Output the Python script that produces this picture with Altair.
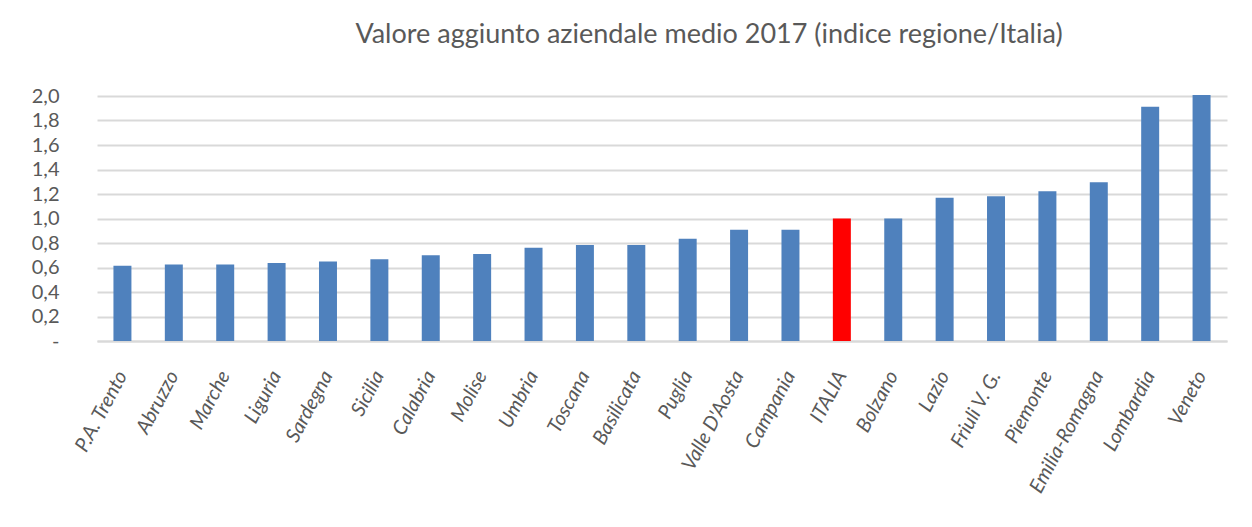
import altair as alt
import pandas as pd

regioni = ["P.A. Trento", "Abruzzo", "Marche", "Liguria", "Sardegna", "Sicilia",
           "Calabria", "Molise", "Umbria", "Toscana", "Basilicata", "Puglia",
           "Valle D'Aosta", "Campania", "ITALIA", "Bolzano", "Lazio", "Friuli V. G.",
           "Piemonte", "Emilia-Romagna", "Lombardia", "Veneto"]
valori = [0.615, 0.625, 0.625, 0.637, 0.648, 0.667,
          0.699, 0.710, 0.762, 0.784, 0.784, 0.835,
          0.909, 0.909, 1.000, 1.000, 1.170, 1.181,
          1.222, 1.295, 1.913, 2.008]
y_ticks = [0.0, 0.2, 0.4, 0.6, 0.8, 1.0, 1.2, 1.4, 1.6, 1.8, 2.0]
titolo = "Valore aggiunto aziendale medio 2017 (indice regione/Italia)"

df = pd.DataFrame({"regione": regioni, "valore": valori})

FONT = "Lato"
GREY = "#595959"

chart = alt.Chart(df).mark_bar(clip=False).encode(
    x=alt.X("regione:N", sort=None, title=None,
            scale=alt.Scale(paddingInner=0.65, paddingOuter=0.32),
            axis=alt.Axis(labelAngle=-62, labelAlign="right", labelBaseline="middle",
                          labelPadding=31, labelFontSize=20, labelColor=GREY,
                          labelFont=FONT, labelFontStyle="italic", ticks=False, domain=True,
                          domainColor="#D9D9D9", domainWidth=2, labelOverlap=False)),
    y=alt.Y("valore:Q", title=None,
            scale=alt.Scale(domain=[0, 2.0], nice=False),
            axis=alt.Axis(values=y_ticks, ticks=False, domain=False,
                          labelExpr="datum.value == 0 ? '-' : replace(format(datum.value, '.1f'), '.', ',')",
                          labelFontSize=20, labelColor=GREY, labelFont=FONT,
                          labelPadding=38, gridColor="#D9D9D9", gridWidth=2)),
    color=alt.condition(alt.datum.regione == "ITALIA",
                        alt.value("#FF0000"), alt.value("#4F81BD")),
).properties(
    width=1130,
    height=245,
    autosize=alt.AutoSizeParams(type="none"),
    padding={"left": 89, "top": 88, "right": 10, "bottom": 170},
    title=alt.TitleParams(titolo, fontSize=27, font=FONT, color=GREY,
                          fontWeight="normal", anchor="middle", frame="group",
                          dx=47, offset=16, baseline="alphabetic"),
).configure_view(stroke=None)

chart.save("out.html", embed_options={"renderer": "svg", "actions": False})
